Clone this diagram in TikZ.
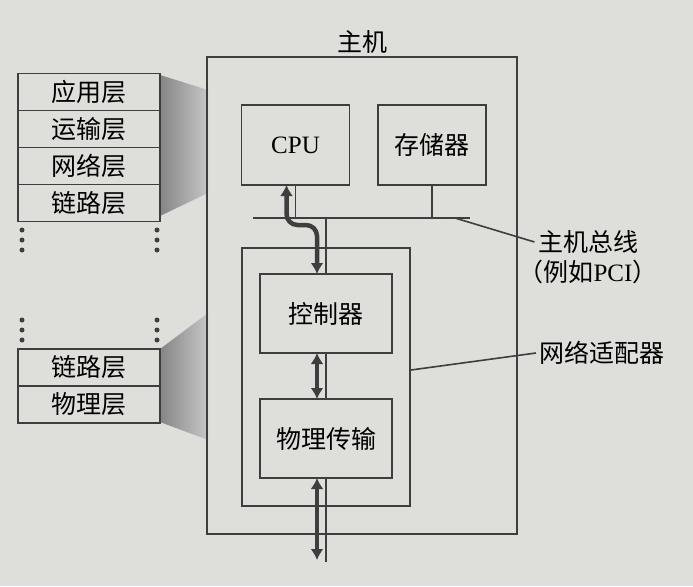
\documentclass[tikz,border=0pt]{standalone}
\usepackage{fontspec}
\setmainfont{Liberation Serif}
\newfontfamily\cjk{Noto Sans CJK SC}
\usetikzlibrary{positioning,arrows.meta}
\definecolor{paper}{RGB}{222,222,218}
\definecolor{ink}{RGB}{62,62,62}
\newcommand\txtsize{\fontsize{25}{28}\selectfont}
\tikzset{box/.style={draw=ink,line width=1.6pt,outer sep=0pt,inner sep=0pt},
	layer/.style={box,minimum width=142pt,minimum height=37pt,font=\cjk\txtsize},
	unit/.style={box,minimum width=108pt,minimum height=80pt},
	part/.style={box,minimum width=132pt,minimum height=79pt,font=\cjk\txtsize},
	thin/.style={draw=ink,line width=1.6pt},
	bigarrow/.style={draw=ink,line width=4.5pt,{Latex[length=11pt,width=13pt]}-{Latex[length=11pt,width=13pt]}},
	note/.style={font=\cjk\txtsize}}

\begin{document}
\begin{tikzpicture}[x=1pt,y=-1pt,font=\txtsize]
	\fill[paper] (0,0) rectangle (693,586);
	\useasboundingbox (0,0) rectangle (693,586);
	% projections of the layers
	\shade[left color=black!48,right color=black!22] (160,75) -- (208,90) -- (208,193) -- (160,216) -- cycle;
	\shade[left color=black!48,right color=black!22] (160,349) -- (208,313) -- (208,440) -- (160,422) -- cycle;
	% layer stacks
	\node[layer] (app) at (89,92) {应用层};
	\node[layer,below=0pt of app] (trans) {运输层};
	\node[layer,below=0pt of trans] (net) {网络层};
	\node[layer,below=0pt of net] (link) {链路层};
	\node[layer] (linkb) at (89,367.5) {链路层};
	\node[layer,below=0pt of linkb] (phys) {物理层};
	\foreach \y in {230,240,250,320,330,340}{
		\fill[ink] (22,\y) circle (2.5pt) (157,\y) circle (2.5pt);
	}
	% host
	\node[box,minimum width=310pt,minimum height=477pt] (host) at (362,295.5) {};
	\node[note,above=0pt of host] (hosttitle) {主机};
	\node[unit] (cpu) at (295.5,145) {CPU};
	\node[unit,font=\cjk\txtsize] (mem) at (432,145) {存储器};
	\node[box,minimum width=168pt,minimum height=258pt] (adapter) at (326,377) {};
	\node[part] (ctrl) at (326,313.5) {控制器};
	\node[part] (phy) at (326,438.5) {物理传输};
	% bus
	\coordinate (busL) at (253,218);
	\coordinate (busR) at (470,218);
	\coordinate (busend) at (455,218);
	\coordinate (adend) at (411,370);
	\coordinate (netend) at (326,562);
	\draw[thin] (busL) -- (busR);
	\draw[thin] (cpu.south) -- (cpu.south |- busL);
	\draw[thin] (mem.south) -- (mem.south |- busL);
	\draw[thin] (ctrl.north |- busL) -- (ctrl.north);
	\draw[thin] (ctrl.south) -- (phy.north);
	\draw[thin] (phy.south) -- (netend);
	% data paths
	\draw[bigarrow,rounded corners=11pt] ([xshift=-9pt]cpu.south) -- ++(0,40) -| ([xshift=-9pt]ctrl.north);
	\draw[bigarrow] ([xshift=-9pt]ctrl.south) -- ([xshift=-9pt]phy.north);
	\draw[bigarrow] ([xshift=-9pt]phy.south) -- ([xshift=-9pt,yshift=2pt]netend);
	% labels
	\node[note] (buslabel) at (588,242) {主机总线};
	\node (pcilabel) at (588,272) {{\cjk （例如}PCI{\cjk ）}};
	\node[note] (adlabel) at (602,353) {网络适配器};
	\draw[thin] (busend) -- (buslabel.west);
	\draw[thin] (adend) -- (adlabel.west);
\end{tikzpicture}
\end{document}
